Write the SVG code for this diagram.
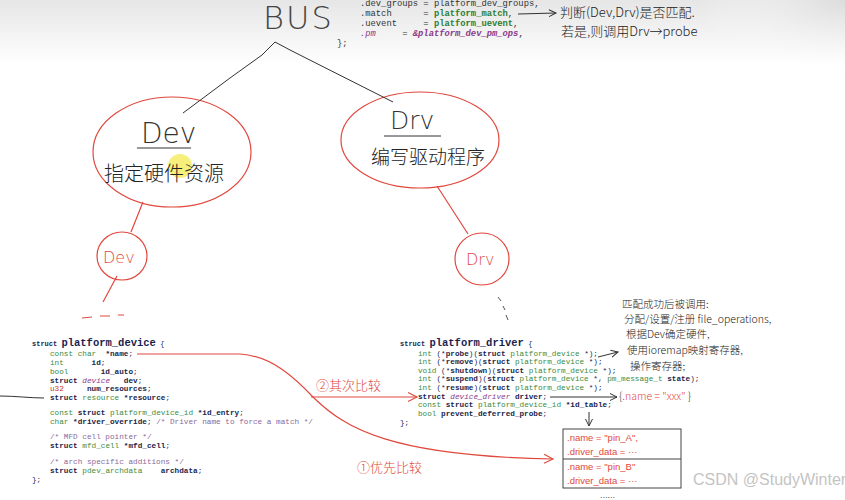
<svg xmlns="http://www.w3.org/2000/svg" width="845" height="500" viewBox="0 0 845 500">
<defs>
<linearGradient id="topbg" x1="0" y1="0" x2="0" y2="1">
<stop offset="0" stop-color="#e6e6e6"/>
<stop offset="1" stop-color="#ffffff"/>
</linearGradient>
<radialGradient id="corner" cx="1" cy="0" r="0.6">
<stop offset="0" stop-color="#dcdcdc"/>
<stop offset="1" stop-color="#ffffff" stop-opacity="0"/>
</radialGradient>
<marker id="openB" markerWidth="10" markerHeight="10" refX="8" refY="5" orient="auto" markerUnits="userSpaceOnUse">
<polyline points="1,1.5 8,5 1,8.5" fill="none" stroke="#333" stroke-width="1"/>
</marker>
<marker id="openR" markerWidth="12" markerHeight="12" refX="10" refY="6" orient="auto" markerUnits="userSpaceOnUse">
<polyline points="1,1.5 10,6 1,10.5" fill="none" stroke="#e0483d" stroke-width="1.1"/>
</marker>
</defs>
<style>
.code{font-family:"Liberation Mono","DejaVu Sans Mono",monospace;font-size:7.7px;white-space:pre;fill:#1d2a5a}
.top{font-family:"Liberation Mono","DejaVu Sans Mono",monospace;font-size:8.8px;white-space:pre;fill:#333}
.b{font-weight:bold;fill:#1a1f4d}
.g{fill:#3d8a3d}
.gb{fill:#2e7d2e;font-weight:bold}
.p{fill:#8a3a8a;font-style:italic}
.c{fill:#8a6a9a}
.r{fill:#c0392b}
.kw{font-weight:bold;fill:#1a1f4d}
.hd{font-family:"Noto Sans CJK SC","Noto Sans",sans-serif;font-weight:300;fill:#222}
.hr{font-family:"Noto Sans CJK SC","Noto Sans",sans-serif;font-weight:300;fill:#e0483d}
.hl{font-family:"DejaVu Sans","Liberation Sans",sans-serif;font-weight:200}
.bx{font-family:"Liberation Sans","Noto Sans",sans-serif;fill:#e0483d;font-size:9.5px}
.red{fill:none;stroke:#e0483d;stroke-width:1.2}
.blk{fill:none;stroke:#333;stroke-width:1}
.title{font-family:"Liberation Mono","DejaVu Sans Mono",monospace;font-size:10.5px;font-weight:bold;fill:#1a1f4d}
.small{font-family:"Liberation Mono","DejaVu Sans Mono",monospace;font-size:7px;font-weight:bold;fill:#1a1f4d}
</style>
<rect x="0" y="0" width="845" height="500" fill="#ffffff"/>
<rect x="0" y="0" width="845" height="65" fill="url(#topbg)"/>
<rect x="600" y="0" width="245" height="120" fill="url(#corner)"/>

<g id="bus-code">
<text class="top" x="360" y="6">.dev_groups = platform_dev_groups,</text>
<text class="top" x="360" y="16">.match      = <tspan class="gb">platform_match</tspan>,</text>
<text class="top" x="360" y="26">.uevent     = <tspan class="gb">platform_uevent</tspan>,</text>
<text class="top" x="360" y="36"><tspan class="p">.pm</tspan>     = <tspan class="p" font-weight="bold">&amp;platform_dev_pm_ops</tspan>,</text>
<text class="top" x="337" y="46">};</text>
</g>

<g id="bus">
<text class="hl" x="263" y="29" font-size="32" fill="#444" letter-spacing="2">BUS</text>
</g>

<g id="notes-top">
<text class="hd" x="560" y="17" font-size="13">判断(Dev,Drv)是否匹配.</text>
<text class="hd" x="561" y="36" font-size="13">若是,则调用Drv→probe</text>
</g>

<g id="dev">
<ellipse cx="172" cy="152" rx="79" ry="55" class="red"/>
<circle cx="180" cy="166" r="12" fill="#f3ea4f" opacity="0.75"/>
<text class="hl" x="141" y="143" font-size="28" fill="#333">Dev</text>
<line x1="137" y1="148" x2="191" y2="148" class="blk"/>
<text class="hd" x="104" y="181" font-size="20">指定硬件资源</text>
</g>

<g id="drv">
<ellipse cx="420" cy="140" rx="79" ry="48" class="red"/>
<text class="hl" x="390" y="129" font-size="25" fill="#333">Drv</text>
<line x1="384" y1="136" x2="441" y2="136" class="blk"/>
<text class="hd" x="371" y="164" font-size="19">编写驱动程序</text>
</g>

<g id="dev-small">
<ellipse cx="122" cy="256" rx="25" ry="24" class="red"/>
<text class="hl" x="103" y="263" font-size="16" fill="#e0483d">Dev</text>
</g>

<g id="drv-small">
<ellipse cx="482" cy="259" rx="27" ry="26" class="red"/>
<text class="hl" x="466" y="265" font-size="16" fill="#e0483d">Drv</text>
</g>

<g id="platform-device">
<text class="small" x="32" y="346">struct <tspan class="title">platform_device</tspan> <tspan font-weight="normal">{</tspan></text>
<text class="code" x="50" y="356"><tspan class="g">const char</tspan>  <tspan class="b">*name</tspan>;</text>
<text class="code" x="50" y="365"><tspan class="g">int</tspan>      <tspan class="b">id</tspan>;</text>
<text class="code" x="50" y="374"><tspan class="g">bool</tspan>       <tspan class="b">id_auto</tspan>;</text>
<text class="code" x="50" y="383"><tspan class="kw">struct</tspan> <tspan class="p">device</tspan>   <tspan class="b">dev</tspan>;</text>
<text class="code" x="50" y="391"><tspan class="r">u32</tspan>     <tspan class="b">num_resources</tspan>;</text>
<text class="code" x="50" y="400"><tspan class="kw">struct</tspan> <tspan class="g">resource</tspan> <tspan class="b">*resource</tspan>;</text>
<text class="code" x="50" y="415"><tspan class="g">const</tspan> <tspan class="kw">struct</tspan> <tspan class="g">platform_device_id</tspan> <tspan class="b">*id_entry</tspan>;</text>
<text class="code" x="50" y="424"><tspan class="g">char</tspan> <tspan class="b">*driver_override</tspan>; <tspan class="c">/* Driver name to force a match */</tspan></text>
<text class="code" x="50" y="439"><tspan class="c">/* MFD cell pointer */</tspan></text>
<text class="code" x="50" y="448"><tspan class="kw">struct</tspan> <tspan class="g">mfd_cell</tspan> <tspan class="b">*mfd_cell</tspan>;</text>
<text class="code" x="50" y="464"><tspan class="c">/* arch specific additions */</tspan></text>
<text class="code" x="50" y="473"><tspan class="kw">struct</tspan> <tspan class="g">pdev_archdata</tspan>    <tspan class="b">archdata</tspan>;</text>
<text class="code" x="32" y="482">};</text>
</g>

<g id="platform-driver">
<text class="small" x="400" y="346">struct <tspan class="title">platform_driver</tspan> <tspan font-weight="normal">{</tspan></text>
<text class="code" x="418" y="356"><tspan class="g">int</tspan> (*<tspan class="b">probe</tspan>)(<tspan class="kw">struct</tspan> <tspan class="g">platform_device</tspan> *);</text>
<text class="code" x="418" y="364"><tspan class="g">int</tspan> (*<tspan class="b">remove</tspan>)(<tspan class="kw">struct</tspan> <tspan class="g">platform_device</tspan> *);</text>
<text class="code" x="418" y="373"><tspan class="g">void</tspan> (*<tspan class="b">shutdown</tspan>)(<tspan class="kw">struct</tspan> <tspan class="g">platform_device</tspan> *);</text>
<text class="code" x="418" y="381"><tspan class="g">int</tspan> (*<tspan class="b">suspend</tspan>)(<tspan class="kw">struct</tspan> <tspan class="g">platform_device</tspan> *, <tspan class="g">pm_message_t</tspan> <tspan class="b">state</tspan>);</text>
<text class="code" x="418" y="390"><tspan class="g">int</tspan> (*<tspan class="b">resume</tspan>)(<tspan class="kw">struct</tspan> <tspan class="g">platform_device</tspan> *);</text>
<text class="code" x="418" y="399"><tspan class="kw">struct</tspan> <tspan class="p">device_driver</tspan> <tspan class="b">driver</tspan>;</text>
<text class="code" x="418" y="407"><tspan class="g">const</tspan> <tspan class="kw">struct</tspan> <tspan class="g">platform_device_id</tspan> <tspan class="b">*id_table</tspan>;</text>
<text class="code" x="418" y="416"><tspan class="g">bool</tspan> <tspan class="b">prevent_deferred_probe</tspan>;</text>
<text class="code" x="400" y="425">};</text>
</g>

<g id="notes-probe">
<text class="hd" x="622" y="308" font-size="10.5">匹配成功后被调用:</text>
<text class="hd" x="624" y="323" font-size="10.5">分配/设置/注册 file_operations,</text>
<text class="hd" x="626" y="338" font-size="10.5">根据Dev确定硬件,</text>
<text class="hd" x="627" y="354" font-size="10.5">使用ioremap映射寄存器,</text>
<text class="hd" x="630" y="370" font-size="10.5">操作寄存器;</text>
</g>

<g id="name-note">
<text class="hd" x="619" y="400" font-size="10.5">{<tspan fill="#e0483d">.name = "xxx"</tspan> }</text>
</g>

<g id="id-table-box">
<rect x="563" y="429" width="118" height="59" fill="none" stroke="#444" stroke-width="1"/>
<line x1="563" y1="459" x2="681" y2="459" stroke="#444" stroke-width="1"/>
<text class="bx" x="567" y="441">.name = "pin_A",</text>
<text class="bx" x="567" y="455">.driver_data = ···</text>
<text class="bx" x="567" y="470">.name = "pin_B"</text>
<text class="bx" x="567" y="484">.driver_data = ···</text>
<text x="600" y="498" font-family="Liberation Sans, sans-serif" font-size="9" fill="#555">......</text>
</g>

<g id="labels">
<text class="hr" x="316" y="390" font-size="13">②其次比较</text>
<text class="hr" x="357" y="472" font-size="13">①优先比较</text>
</g>

<g id="connectors">
<polyline points="183,113 230,78 262,55 275,42 290,50 393,102" class="blk"/>
<line x1="143" y1="202" x2="131" y2="232" class="red"/>
<line x1="117" y1="276" x2="103" y2="302" class="red"/>
<path d="M82,318 L92,317 M100,316 L110,316 M118,315 L124,315" stroke="#e0483d" stroke-width="1" fill="none"/>
<line x1="437" y1="186" x2="468" y2="234" class="red"/>
<path d="M498,297 L501,301 M503,306 L505,310 M506,315 L508,320" stroke="#555" stroke-width="1" fill="none"/>
<line x1="518" y1="14" x2="556" y2="13" class="blk" marker-end="url(#openB)"/>
<line x1="598" y1="357" x2="618" y2="352" class="blk" marker-end="url(#openB)"/>
<line x1="550" y1="397" x2="617" y2="397" class="blk" marker-end="url(#openB)"/>
<line x1="589" y1="412" x2="589" y2="426" class="blk" marker-end="url(#openB)"/>
<path d="M0,396 C15,396 30,398 44,398" class="blk"/>
<path d="M137,354 L240,354 C272,356 295,378 314,398 C345,428 390,456 553,459" class="red" marker-end="url(#openR)"/>
<line x1="311" y1="397" x2="417" y2="397" class="red" marker-end="url(#openR)"/>
</g>

<text x="693" y="485" font-family="Liberation Sans, sans-serif" font-size="16" fill="#c4c4c4">CSDN @StudyWinter</text>
</svg>
